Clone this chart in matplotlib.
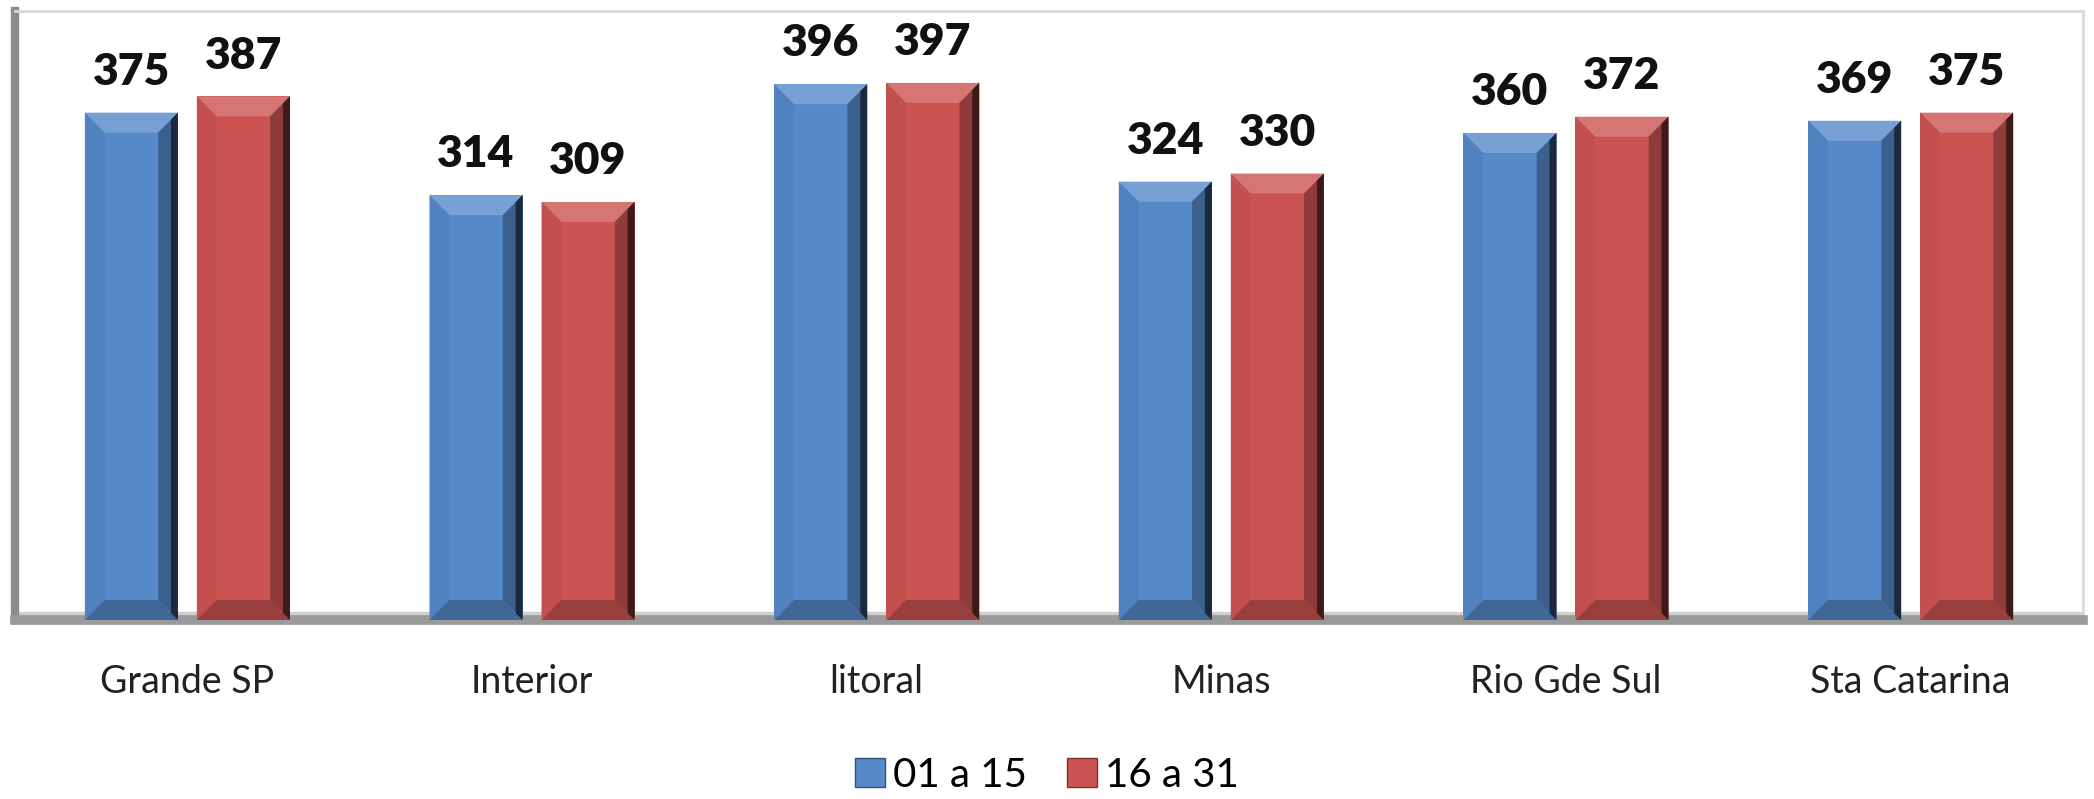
import numpy as np
import matplotlib.pyplot as plt
from matplotlib.patches import Polygon, Patch
from matplotlib.colors import to_rgb

regioes = ['Grande SP', 'Interior', 'litoral', 'Minas', 'Rio Gde Sul', 'Sta Catarina']
periodo_1 = [375, 314, 396, 324, 360, 369]
periodo_2 = [387, 309, 397, 330, 372, 375]
series = ['01 a 15', '16 a 31']
cores = ['#5589CA', '#CB5452']

plt.rcParams['font.family'] = ['Lato', 'DejaVu Sans']


def shade(c, f):
    r, g, b = to_rgb(c)
    if f >= 0:
        return (r + (1 - r) * f, g + (1 - g) * f, b + (1 - b) * f)
    f = -f
    return (r * (1 - f), g * (1 - f), b * (1 - f))


def bevel(ax, rect, color, bx, by):
    x0 = rect.get_x()
    x1 = x0 + rect.get_width()
    h = rect.get_height()
    faces = [
        ([(x0, h), (x1, h), (x1 - bx, h - by), (x0 + bx, h - by)], shade(color, 0.2)),
        ([(x0, h), (x0 + bx, h - by), (x0 + bx, by), (x0, 0)], shade(color, -0.05)),
        ([(x1, h), (x1, 0), (x1 - bx, by), (x1 - bx, h - by)], shade(color, -0.3)),
        ([(x0, 0), (x0 + bx, by), (x1 - bx, by), (x1, 0)], shade(color, -0.25)),
    ]
    for pts, c in faces:
        ax.add_patch(Polygon(pts, closed=True, facecolor=c, edgecolor='none', zorder=3))
    # dark outer edge on the right
    ax.add_patch(Polygon([(x1 - bx * 0.35, h - by * 0.35), (x1, h), (x1, 0),
                          (x1 - bx * 0.35, by * 0.35)], closed=True,
                         facecolor=shade(color, -0.7), edgecolor='none', zorder=3))


def main():
    fig = plt.figure(figsize=(20.94, 7.99), dpi=100)
    ax = fig.add_axes([0.0072, 0.224, 0.9875, 0.762])

    x = np.arange(len(regioes))
    w = 0.27
    gap = 0.055
    offs = [-(w + gap) / 2, (w + gap) / 2]

    # bevel sizes in data units (about 20 px)
    bx = 0.27 / 94 * 20
    by = 450 / 609 * 20

    for vals, cor, off in zip([periodo_1, periodo_2], cores, offs):
        bars = ax.bar(x + off, vals, width=w, color=cor, zorder=2)
        for r in bars:
            bevel(ax, r, cor, bx, by)
        for r, v in zip(bars, vals):
            ax.annotate(str(v), (r.get_x() + r.get_width() / 2, v),
                        xytext=(0, 15), textcoords='offset points',
                        ha='center', va='bottom', fontsize=32,
                        fontweight='heavy', color='#111111')

    ax.set_xlim(-0.5, len(regioes) - 0.5)
    ax.set_ylim(0, 450)
    ax.set_yticks([])
    ax.set_xticks(x)
    ax.set_xticklabels(regioes, fontsize=27, color='#222222')
    ax.tick_params(axis='x', length=0, pad=32)

    # 3d-ish frame: walls and floor
    for s in ['top', 'right']:
        ax.spines[s].set_color('#d9d9d9')
        ax.spines[s].set_linewidth(2)
    ax.spines['left'].set_color('#8c8c8c')
    ax.spines['left'].set_linewidth(6)
    ax.spines['bottom'].set_color('#9a9a9a')
    ax.spines['bottom'].set_linewidth(7)
    ax.axhline(3, color='#d0d0d0', lw=6, zorder=1)

    handles = [Patch(facecolor=c, edgecolor=shade(c, -0.4)) for c in cores]
    fig.legend(handles, series, loc='center', bbox_to_anchor=(0.5, 0.03),
               ncol=2, frameon=False, fontsize=29, handlelength=0.75,
               handleheight=0.75, handletextpad=0.2, columnspacing=1.0)

    plt.savefig('out.png', dpi=100)


if __name__ == '__main__':
    main()
